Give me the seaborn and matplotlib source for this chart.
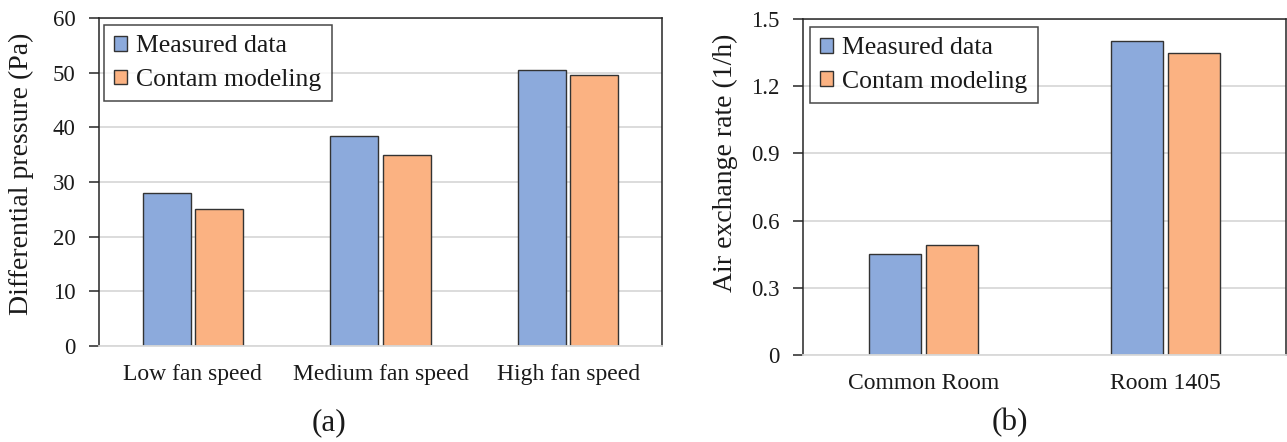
import matplotlib
matplotlib.use("Agg")
import matplotlib.pyplot as plt
import seaborn as sns
import pandas as pd
from matplotlib.patches import Patch

# ---- data ----
speed_cats = ["Low fan speed", "Medium fan speed", "High fan speed"]
pressure_measured = [28.0, 38.5, 50.4]
pressure_contam = [25.0, 35.0, 49.5]
room_cats = ["Common Room", "Room 1405"]
ach_measured = [0.45, 1.40]
ach_contam = [0.49, 1.35]
series = ["Measured data", "Contam modeling"]
left_ticks = [0, 10, 20, 30, 40, 50, 60]
right_ticks = [0, 0.3, 0.6, 0.9, 1.2, 1.5]
right_ticklabels = ["0", "0.3", "0.6", "0.9", "1.2", "1.5"]

colors = ["#8CAADC", "#FBB282"]

sns.set_theme(style="white")
plt.rcParams["font.family"] = ["Liberation Serif", "DejaVu Serif"]

W, H = 1287, 442
fig = plt.figure(figsize=(W / 100, H / 100), dpi=100)

def px_axes(x0, x1, ytop, ybot):
    return fig.add_axes([x0 / W, 1 - ybot / H, (x1 - x0) / W, (ybot - ytop) / H])

ax1 = px_axes(99, 662, 18, 346)
ax2 = px_axes(803, 1286, 19, 355)

df1 = pd.DataFrame({
    "cat": speed_cats * 2,
    "val": pressure_measured + pressure_contam,
    "series": [series[0]] * len(speed_cats) + [series[1]] * len(speed_cats),
})
df2 = pd.DataFrame({
    "cat": room_cats * 2,
    "val": ach_measured + ach_contam,
    "series": [series[0]] * len(room_cats) + [series[1]] * len(room_cats),
})

TXT = "#1a1a1a"

def style_axis(ax, df, width, gap, ticks, ticklabels, ylabel, ylabel_xy, legend_anchor):
    sns.barplot(data=df, x="cat", y="val", hue="series", hue_order=series,
                palette=colors, width=width, gap=gap, edgecolor="#333333",
                linewidth=1.0, saturation=1, ax=ax, legend=False)
    ax.set_ylim(ticks[0], ticks[-1])
    ax.set_yticks(ticks)
    ax.set_yticklabels(ticklabels)
    ax.set_xlabel("")
    ax.set_ylabel(ylabel, fontsize=20, color=TXT)
    ax.yaxis.set_label_coords(*ylabel_xy)
    ax.yaxis.label.set_va("center")
    ax.set_axisbelow(True)
    ax.yaxis.grid(True, color="#d9d9d9", linewidth=1.3)
    ax.xaxis.grid(False)
    for s in ["left", "top", "right"]:
        ax.spines[s].set_visible(True)
        ax.spines[s].set_color("#262626")
        ax.spines[s].set_linewidth(1.1)
    ax.spines["bottom"].set_color("#d9d9d9")
    ax.spines["bottom"].set_linewidth(1.3)
    ax.tick_params(axis="y", which="major", left=True, length=7, width=1.1,
                   color="#262626", pad=10, labelsize=16.5, labelcolor=TXT)
    ax.tick_params(axis="x", which="major", bottom=False, length=0, pad=13,
                   labelsize=17, labelcolor=TXT)
    handles = [Patch(facecolor=c, edgecolor="#333333", linewidth=1.0) for c in colors]
    leg = ax.legend(handles, series, loc="upper left", bbox_to_anchor=legend_anchor,
                    borderaxespad=0, fontsize=18.5, frameon=True, fancybox=False,
                    handlelength=0.5, handleheight=0.5, handletextpad=0.35,
                    borderpad=0.4, labelspacing=0.45)
    leg.get_frame().set_edgecolor(TXT)
    leg.get_frame().set_linewidth(1.1)
    for t in leg.get_texts():
        t.set_color(TXT)

style_axis(ax1, df1, 0.56, 0.086, left_ticks, [str(t) for t in left_ticks],
           "Differential pressure (Pa)", (-0.137, 0.526), (0.009, 0.978))
style_axis(ax2, df2, 0.468, 0.08, right_ticks, right_ticklabels,
           "Air exchange rate (1/h)", (-0.161, 0.573), (0.0145, 0.976))

fig.text(329 / W, 1 - 423 / H, "(a)", ha="center", va="center", fontsize=22.5, color=TXT)
fig.text(1010 / W, 1 - 423 / H, "(b)", ha="center", va="center", fontsize=22.5, color=TXT)

fig.savefig("out.png", dpi=100)
